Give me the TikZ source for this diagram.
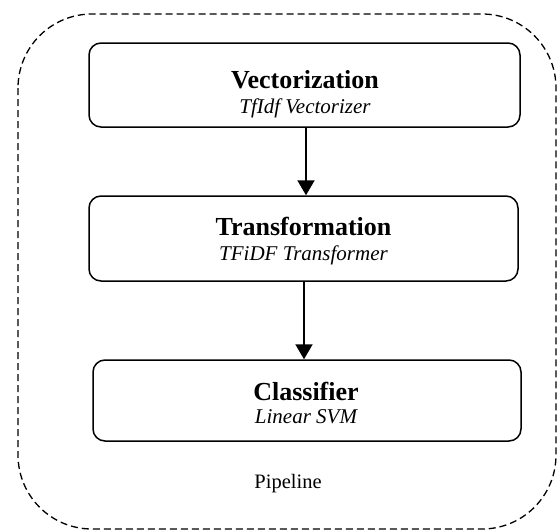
\documentclass[tikz,border=0pt]{standalone}
\usepackage{fontspec}
\setmainfont{Liberation Serif}
\usetikzlibrary{arrows.meta}
\begin{document}
\begin{tikzpicture}[x=1pt,y=-1pt,
  stagebox/.style={draw=black, line width=1.5pt, rounded corners=12pt, inner sep=0pt},
  titletext/.style={anchor=base, inner sep=0pt, font=\fontsize{26}{30}\selectfont\bfseries},
  subtext/.style={anchor=base, inner sep=0pt, font=\fontsize{21}{25}\selectfont\itshape},
  flow/.style={line width=2pt, -{Triangle[length=15pt,width=17pt]}},
  outerbox/.style={draw=black, line width=1.3pt, dash pattern=on 7pt off 4pt, rounded corners=74pt}]
\useasboundingbox (0,0) rectangle (558,531);
\draw[outerbox] (18,14) rectangle (556,529);
\node[stagebox, minimum width=431pt, minimum height=84pt] (vec) at (304.5,85) {};
\node[stagebox, minimum width=429pt, minimum height=85pt] (tra) at (303.5,238.5) {};
\node[stagebox, minimum width=428pt, minimum height=81pt] (cla) at (307,400.5) {};
\node[titletext] (vect) at (305,88) {Vectorization};
\node[subtext] (vecs) at (305,113) {TfIdf Vectorizer};
\node[titletext] (trat) at (303.5,235) {Transformation};
\node[subtext] (tras) at (303.5,260) {TFiDF Transformer};
\node[titletext] (clat) at (306,400) {Classifier};
\node[subtext] (clas) at (306,423) {Linear SVM};
\node[anchor=base, inner sep=0pt, font=\fontsize{20.5}{24}\selectfont] (pipe) at (288,488) {Pipeline};
\draw[flow] (vec.south -| 306,0) -- (tra.north -| 306,0);
\draw[flow] (tra.south -| 304,0) -- (cla.north -| 304,0);
\end{tikzpicture}
\end{document}
